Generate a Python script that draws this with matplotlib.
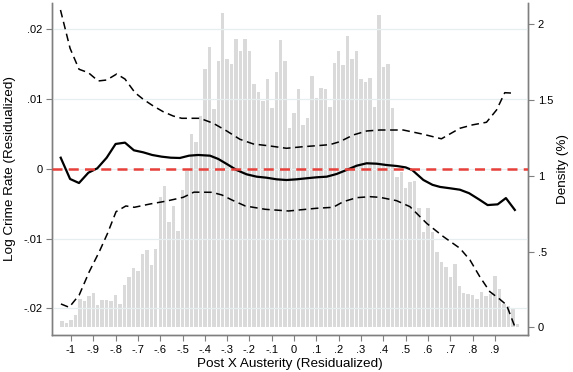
import numpy as np
import matplotlib
matplotlib.use("Agg")
import matplotlib.pyplot as plt

plt.rcParams['font.family'] = ['Liberation Sans', 'DejaVu Sans']

# Histogram (density, %) bins centred at -1.04 ... 1.00 step 0.02
bin_start = -1.04
bin_step = 0.02
density = [
    0.040, 0.029, 0.046, 0.079, 0.184, 0.172, 0.205, 0.226, 0.148, 0.183,
    0.183, 0.172, 0.213, 0.157, 0.282, 0.334, 0.392, 0.375, 0.485, 0.511,
    0.412, 0.518, 0.862, 0.934, 0.694, 0.804, 0.638, 0.908, 1.033, 1.274,
    1.224, 1.395, 1.706, 1.851, 1.441, 1.757, 2.077, 1.768, 1.741, 1.904,
    1.821, 1.904, 1.826, 1.608, 1.555, 1.493, 1.640, 1.445, 1.684, 1.899,
    1.757, 1.318, 1.412, 1.570, 1.333, 1.384, 1.658, 1.515, 1.577, 1.570,
    1.454, 1.746, 1.822, 1.730, 1.925, 1.772, 1.822, 1.636, 1.618, 1.647,
    1.454, 2.059, 1.719, 1.741, 1.445, 0.989, 1.022, 0.917, 0.956, 0.967,
    0.790, 0.627, 0.787, 0.627, 0.496, 0.430, 0.400, 0.333, 0.419, 0.270,
    0.224, 0.222, 0.216, 0.186, 0.230, 0.204, 0.221, 0.338, 0.252, 0.155,
    0.140, 0.125, 0.023,
]
bin_centers = [round(bin_start + bin_step * i, 2) for i in range(len(density))]

# Point estimate
est_x = [-1.046, -1.004, -0.964, -0.922, -0.882, -0.840, -0.800, -0.758, -0.718, -0.676,
         -0.636, -0.594, -0.553, -0.512, -0.471, -0.430, -0.377, -0.340, -0.302, -0.258,
         -0.213, -0.168, -0.123, -0.078, -0.034, 0.011, 0.056, 0.101, 0.146, 0.190,
         0.235, 0.280, 0.325, 0.370, 0.414, 0.460, 0.500, 0.530, 0.579, 0.620,
         0.654, 0.700, 0.743, 0.784, 0.829, 0.867, 0.912, 0.949, 0.989]
est_y = [0.00159, -0.00146, -0.00204, -0.00056, 0.00007, 0.00159, 0.00356, 0.00375, 0.00265, 0.00236,
         0.00198, 0.00174, 0.00159, 0.00155, 0.00188, 0.00198, 0.00188, 0.00141, 0.00069, -0.00017,
         -0.00079, -0.00113, -0.00128, -0.00151, -0.00161, -0.00151, -0.00136, -0.00122, -0.00113, -0.00075,
         -0.00017, 0.00044, 0.00079, 0.00073, 0.00054, 0.00040, 0.00020, -0.00020, -0.00160, -0.00230,
         -0.00260, -0.00280, -0.00300, -0.00350, -0.00440, -0.00520, -0.00510, -0.00420, -0.00590]

# Upper confidence band
hi_x = [-1.047, -1.004, -0.964, -0.922, -0.878, -0.840, -0.795, -0.758, -0.713, -0.676,
        -0.631, -0.587, -0.542, -0.504, -0.459, -0.422, -0.362, -0.302, -0.243, -0.183,
        -0.108, -0.034, 0.041, 0.101, 0.160, 0.205, 0.265, 0.325, 0.384, 0.429,
        0.489, 0.579, 0.660, 0.743, 0.800, 0.862, 0.907, 0.944, 0.989]
hi_y = [0.02277, 0.01727, 0.01427, 0.01378, 0.01259, 0.01273, 0.01359, 0.01287, 0.01091, 0.00996,
        0.00900, 0.00819, 0.00757, 0.00724, 0.00724, 0.00724, 0.00652, 0.00542, 0.00423, 0.00356,
        0.00327, 0.00294, 0.00317, 0.00331, 0.00346, 0.00389, 0.00485, 0.00542, 0.00556, 0.00556,
        0.00556, 0.00495, 0.00430, 0.00581, 0.00630, 0.00667, 0.00843, 0.01091, 0.01083]

# Lower confidence band
lo_x = [-1.045, -1.008, -0.963, -0.918, -0.873, -0.836, -0.798, -0.754, -0.716, -0.646,
        -0.571, -0.497, -0.449, -0.368, -0.323, -0.279, -0.219, -0.129, -0.025, 0.101,
        0.175, 0.220, 0.280, 0.340, 0.384, 0.459, 0.519, 0.594, 0.669, 0.743,
        0.788, 0.832, 0.877, 0.922, 0.952, 0.989]
lo_y = [-0.01938, -0.01986, -0.01809, -0.01475, -0.01188, -0.00925, -0.00615, -0.00533, -0.00552, -0.00505,
        -0.00462, -0.00409, -0.00335, -0.00337, -0.00376, -0.00447, -0.00533, -0.00581, -0.00605, -0.00566,
        -0.00552, -0.00472, -0.00414, -0.00400, -0.00409, -0.00457, -0.00543, -0.00782, -0.00973, -0.01140,
        -0.01308, -0.01547, -0.01762, -0.01871, -0.01953, -0.02264]

x_ticks = [-1, -0.9, -0.8, -0.7, -0.6, -0.5, -0.4, -0.3, -0.2, -0.1,
           0, 0.1, 0.2, 0.3, 0.4, 0.5, 0.6, 0.7, 0.8, 0.9]
x_ticklabels = ['-1', '-.9', '-.8', '-.7', '-.6', '-.5', '-.4', '-.3', '-.2', '-.1',
                '0', '.1', '.2', '.3', '.4', '.5', '.6', '.7', '.8', '.9']
left_ticks = [-0.02, -0.01, 0, 0.01, 0.02]
left_ticklabels = ['-.02', '-.01', '0', '.01', '.02']
right_ticks = [0, 0.5, 1, 1.5, 2]
right_ticklabels = ['0', '.5', '1', '1.5', '2']

fig = plt.figure(figsize=(5.73, 3.72), dpi=100)
ax = fig.add_axes([52/573, 1-335/372, (528-52)/573, (335-3)/372])
ax2 = ax.twinx()

# histogram on the host axes, density scale on the right
ax.bar(bin_centers, density, width=0.0155, color='#dadada', linewidth=0, zorder=1)
ax.set_ylim(-0.0508, 2.141)
ax.set_xlim(-1.085, 1.048)
ax.yaxis.tick_right()
ax.yaxis.set_label_position('right')
ax.set_yticks(right_ticks)
ax.set_yticklabels(right_ticklabels)
ax.set_ylabel('Density (%)', fontsize=9.7, labelpad=3)

# lines on the twin axes, crime scale on the left
ax2.yaxis.tick_left()
ax2.yaxis.set_label_position('left')
ax2.set_ylim(-0.02383, 0.02377)
ax2.set_yticks(left_ticks)
ax2.set_yticklabels(left_ticklabels)
ax2.set_ylabel('Log Crime Rate (Residualized)', fontsize=9.7, labelpad=5)
ax2.grid(axis='y', color='#e6eef0', linewidth=0.9, zorder=0)

ax2.plot(hi_x, hi_y, color='black', linewidth=1.1, linestyle=(0, (5, 3)), zorder=3)
ax2.plot(lo_x, lo_y, color='black', linewidth=1.1, linestyle=(0, (5, 3)), zorder=3)
ax2.plot(est_x, est_y, color='black', linewidth=1.6, zorder=4)
ax2.axhline(0, color='#e8403a', linewidth=1.8, linestyle=(0, (4, 2.5)), zorder=5)

ax.set_xticks(x_ticks)
ax.set_xticklabels(x_ticklabels)
ax.set_xlabel('Post X Austerity (Residualized)', fontsize=9.7, labelpad=2)

for a in (ax, ax2):
    a.spines['top'].set_visible(False)
    for s in ('left', 'right', 'bottom'):
        a.spines[s].set_color('#7f7f7f')
        a.spines[s].set_linewidth(1.0)
    a.tick_params(axis='both', labelsize=8, length=4.5, width=0.8, color='#7f7f7f', pad=2.5)

fig.savefig('out.png', dpi=100)
